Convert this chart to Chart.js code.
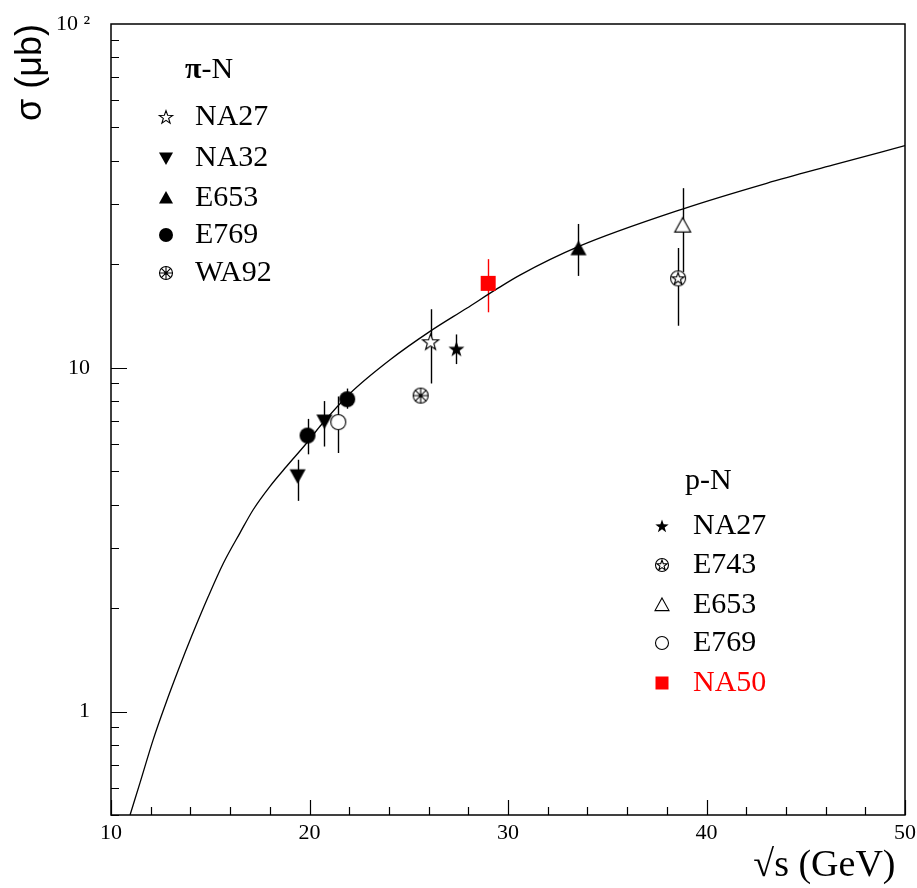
<!DOCTYPE html>
<html>
<head>
<meta charset="utf-8">
<title>sigma vs sqrt(s)</title>
<script src="https://cdn.jsdelivr.net/npm/chart.js@4.4.0/dist/chart.umd.min.js"></script>
<style>
    html, body { margin: 0; padding: 0; background: #fff; }
    #wrap { width: 917px; height: 888px; }
</style>
</head>
<body>
<div id="wrap"><canvas id="xsecChart" width="917" height="888"></canvas></div>
<script>
// Axis ticks
const xTicks = [10, 20, 30, 40, 50];
const yTicks = [1, 10, 100];
const yTickLabels = ['1', '10', '10 \u00B2'];

// Theory curve
const curveX = [10.96, 11.46, 12.13, 12.72, 13.39, 14.07, 14.90, 15.66, 16.50, 17.17, 18.01, 18.85, 19.86, 20.53, 22.04, 24.06, 26.07, 27.92, 29.4, 30.6, 33.54, 38.83, 43.03, 46.39, 50];
const curveY = [0.5, 0.62, 0.83, 1.04, 1.32, 1.66, 2.16, 2.70, 3.31, 3.87, 4.52, 5.17, 6.04, 6.76, 8.42, 10.55, 12.76, 14.9, 16.9, 18.6, 22.5, 29.0, 34.4, 38.9, 44.3];

// pi-N measurements (value, lower and upper end of error bar)
const na27PiX = [26.1];          const na27PiY = [11.9];        const na27PiLo = [9.0];        const na27PiHi = [14.8];
const na32PiX = [19.4, 20.75];   const na32PiY = [4.85, 7.0];   const na32PiLo = [4.1, 5.9];   const na32PiHi = [5.4, 8.0];
const e653PiX = [33.55];         const e653PiY = [22.2];        const e653PiLo = [18.5];       const e653PiHi = [26.2];
const e769PiX = [19.9, 21.9];    const e769PiY = [6.35, 8.1];   const e769PiLo = [5.6, 7.6];   const e769PiHi = [7.1, 8.7];
const wa92PiX = [25.6];          const wa92PiY = [8.3];         const wa92PiLo = [8.3];        const wa92PiHi = [8.3];

// p-N measurements
const na27PX = [27.4];   const na27PY = [11.35];  const na27PLo = [10.25];  const na27PHi = [12.5];
const e743PX = [38.57];  const e743PY = [18.2];   const e743PLo = [13.25];  const e743PHi = [22.3];
const e653PX = [38.8];   const e653PY = [25.9];   const e653PLo = [19.0];   const e653PHi = [33.3];
const e769PX = [21.45];  const e769PY = [6.95];   const e769PLo = [5.65];   const e769PHi = [8.25];
const na50PX = [29.0];   const na50PY = [17.6];   const na50PLo = [14.5];   const na50PHi = [20.7];

const piLegendLabels = ['NA27', 'NA32', 'E653', 'E769', 'WA92'];
const pLegendLabels = ['NA27', 'E743', 'E653', 'E769', 'NA50'];

const RED = '#ff0000';
const SERIF = 'Liberation Serif';

// Draw a 5 point star path
function starPath(g, cx, cy, r) {
    g.beginPath();
    for (let i = 0; i < 10; i++) {
        const rad = i % 2 === 0 ? r : r * 0.4;
        const a = -Math.PI / 2 + i * Math.PI / 5;
        const px = cx + rad * Math.cos(a);
        const py = cy + rad * Math.sin(a);
        if (i === 0) g.moveTo(px, py); else g.lineTo(px, py);
    }
    g.closePath();
}

// Build marker images for pointStyle
function makeMarker(kind, r, color) {
    const size = Math.ceil(2 * r + 4);
    const c = document.createElement('canvas');
    c.width = size;
    c.height = size;
    const g = c.getContext('2d');
    const m = size / 2;
    g.lineWidth = 1.1;
    g.strokeStyle = color;
    g.fillStyle = color;

    if (kind === 'openStar' || kind === 'fullStar') {
        starPath(g, m, m + r * 0.08, r);
        if (kind === 'openStar') { g.fillStyle = '#fff'; g.fill(); g.stroke(); }
        else g.fill();
    } else if (kind === 'triUp' || kind === 'openTriUp') {
        g.beginPath();
        g.moveTo(m, m - r);
        g.lineTo(m + r, m + r * 0.8);
        g.lineTo(m - r, m + r * 0.8);
        g.closePath();
        if (kind === 'openTriUp') { g.fillStyle = '#fff'; g.fill(); g.stroke(); }
        else g.fill();
    } else if (kind === 'triDown') {
        g.beginPath();
        g.moveTo(m, m + r);
        g.lineTo(m + r, m - r * 0.8);
        g.lineTo(m - r, m - r * 0.8);
        g.closePath();
        g.fill();
    } else if (kind === 'circle') {
        g.beginPath();
        g.arc(m, m, r, 0, Math.PI * 2);
        g.fill();
    } else if (kind === 'openCircle') {
        g.beginPath();
        g.arc(m, m, r - 0.5, 0, Math.PI * 2);
        g.fillStyle = '#fff';
        g.fill();
        g.stroke();
    } else if (kind === 'wheel') {
        g.beginPath();
        g.arc(m, m, r - 0.5, 0, Math.PI * 2);
        g.fillStyle = '#fff';
        g.fill();
        g.stroke();
        g.beginPath();
        for (let k = 0; k < 4; k++) {
            const a = k * Math.PI / 4;
            g.moveTo(m - r * Math.cos(a), m - r * Math.sin(a));
            g.lineTo(m + r * Math.cos(a), m + r * Math.sin(a));
        }
        g.stroke();
        g.beginPath();
        g.fillStyle = color;
        g.arc(m, m, 1.6, 0, Math.PI * 2);
        g.fill();
    } else if (kind === 'starCircle') {
        g.beginPath();
        g.arc(m, m, r - 0.5, 0, Math.PI * 2);
        g.fillStyle = '#fff';
        g.fill();
        g.stroke();
        starPath(g, m, m + r * 0.06, r * 0.78);
        g.stroke();
    } else if (kind === 'square') {
        g.fillRect(m - r, m - r, 2 * r, 2 * r);
    }
    return c;
}

function toPoints(xs, ys) {
    return xs.map((v, i) => ({ x: v, y: ys[i] }));
}

function measureSet(label, xs, ys, lo, hi, kind, r, color) {
    return {
        label: label,
        type: 'scatter',
        data: toPoints(xs, ys),
        pointStyle: makeMarker(kind, r, color),
        errLo: lo,
        errHi: hi,
        errColor: color,
        order: 0
    };
}

const piKinds = ['openStar', 'triDown', 'triUp', 'circle', 'wheel'];
const pKinds = ['fullStar', 'starCircle', 'openTriUp', 'openCircle', 'square'];

// Error bars, drawn below the markers
const errorBars = {
    id: 'errorBars',
    beforeDatasetsDraw(chart) {
        const { ctx, scales: { x, y } } = chart;
        ctx.save();
        ctx.lineWidth = 1.4;
        chart.data.datasets.forEach(ds => {
            if (!ds.errLo) return;
            ctx.strokeStyle = ds.errColor;
            ds.data.forEach((p, i) => {
                const px = Math.round(x.getPixelForValue(p.x)) + 0.5;
                ctx.beginPath();
                ctx.moveTo(px, y.getPixelForValue(ds.errHi[i]));
                ctx.lineTo(px, y.getPixelForValue(ds.errLo[i]));
                ctx.stroke();
            });
        });
        ctx.restore();
    }
};

// Frame and inward tick marks
const frameTicks = {
    id: 'frameTicks',
    afterDatasetsDraw(chart) {
        const { ctx, chartArea: a, scales: { x, y } } = chart;
        ctx.save();
        ctx.strokeStyle = '#000';
        ctx.lineWidth = 1.5;
        ctx.strokeRect(a.left, a.top, a.right - a.left, a.bottom - a.top);

        ctx.lineWidth = 1.2;
        ctx.beginPath();
        // x ticks every 2 units, long ones at the labels
        for (let v = x.min; v <= x.max; v += 2) {
            const px = Math.round(x.getPixelForValue(v)) + 0.5;
            const len = xTicks.includes(v) ? 15 : 8;
            ctx.moveTo(px, a.bottom);
            ctx.lineTo(px, a.bottom - len);
        }
        // y ticks at 1..9 x decade
        for (let dec = 0.1; dec < 100; dec *= 10) {
            for (let k = 1; k <= 9; k++) {
                const v = k * dec;
                if (v < y.min - 1e-9 || v > y.max + 1e-9) continue;
                const py = Math.round(y.getPixelForValue(v)) + 0.5;
                const len = k === 1 ? 16 : 8;
                ctx.moveTo(a.left, py);
                ctx.lineTo(a.left + len, py);
            }
        }
        ctx.stroke();
        ctx.restore();
    }
};

// Two legend blocks inside the frame
const legendBlocks = {
    id: 'legendBlocks',
    afterDraw(chart) {
        const ctx = chart.ctx;
        ctx.save();
        ctx.textBaseline = 'middle';
        ctx.textAlign = 'left';

        // pi-N
        ctx.fillStyle = '#000';
        ctx.font = 'bold 30px ' + SERIF;
        ctx.fillText('\u03C0', 185, 70);
        const piW = ctx.measureText('\u03C0').width;
        ctx.font = '30px ' + SERIF;
        ctx.fillText('-N', 185 + piW, 70);
        const piRows = [117, 158, 198, 235, 273];
        piLegendLabels.forEach((lab, i) => {
            const img = makeMarker(piKinds[i], 7, '#000');
            ctx.drawImage(img, 166 - img.width / 2, piRows[i] - img.height / 2);
            ctx.fillStyle = '#000';
            ctx.fillText(lab, 195, piRows[i]);
        });

        // p-N
        ctx.fillStyle = '#000';
        ctx.fillText('p-N', 685, 481);
        const pRows = [526, 565, 605, 643, 683];
        pLegendLabels.forEach((lab, i) => {
            const col = lab === 'NA50' ? RED : '#000';
            const img = makeMarker(pKinds[i], i === 4 ? 6.5 : 7, col);
            ctx.drawImage(img, 662 - img.width / 2, pRows[i] - img.height / 2);
            ctx.fillStyle = col;
            ctx.fillText(lab, 693, pRows[i]);
        });
        ctx.restore();
    }
};

// keep the plot frame where the reference has it
function noOverhang(scale) {
    scale.paddingTop = 0;
    scale.paddingBottom = 0;
    scale.paddingLeft = 0;
    scale.paddingRight = 0;
}

const ctxChart = document.getElementById('xsecChart').getContext('2d');

const xsecChart = new Chart(ctxChart, {
    type: 'scatter',
    data: {
        datasets: [
            measureSet('NA27 pi-N', na27PiX, na27PiY, na27PiLo, na27PiHi, 'openStar', 8.5, '#000'),
            measureSet('NA32 pi-N', na32PiX, na32PiY, na32PiLo, na32PiHi, 'triDown', 8, '#000'),
            measureSet('E653 pi-N', e653PiX, e653PiY, e653PiLo, e653PiHi, 'triUp', 8, '#000'),
            measureSet('E769 pi-N', e769PiX, e769PiY, e769PiLo, e769PiHi, 'circle', 8, '#000'),
            measureSet('WA92 pi-N', wa92PiX, wa92PiY, wa92PiLo, wa92PiHi, 'wheel', 8, '#000'),
            measureSet('NA27 p-N', na27PX, na27PY, na27PLo, na27PHi, 'fullStar', 8.5, '#000'),
            measureSet('E743 p-N', e743PX, e743PY, e743PLo, e743PHi, 'starCircle', 8, '#000'),
            measureSet('E653 p-N', e653PX, e653PY, e653PLo, e653PHi, 'openTriUp', 8, '#000'),
            measureSet('E769 p-N', e769PX, e769PY, e769PLo, e769PHi, 'openCircle', 8, '#000'),
            measureSet('NA50 p-N', na50PX, na50PY, na50PLo, na50PHi, 'square', 7.5, RED),
            {
                label: 'theory',
                type: 'line',
                data: toPoints(curveX, curveY),
                borderColor: '#000',
                borderWidth: 1.3,
                pointRadius: 0,
                cubicInterpolationMode: 'monotone',
                fill: false,
                order: 1
            }
        ]
    },
    options: {
        responsive: false,
        animation: false,
        events: [],
        layout: { padding: { top: 24, right: 12, left: 0, bottom: 0 } },
        plugins: {
            legend: { display: false },
            tooltip: { enabled: false }
        },
        scales: {
            x: {
                type: 'linear',
                min: 10,
                max: 50,
                grid: { display: false, drawTicks: false },
                border: { display: false },
                afterBuildTicks: function (scale) {
                    scale.ticks = xTicks.map(v => ({ value: v }));
                },
                afterFit: function (scale) {
                    scale.height = 73;
                    noOverhang(scale);
                },
                ticks: {
                    autoSkip: false,
                    maxRotation: 0,
                    padding: 5,
                    color: '#000',
                    font: { family: SERIF, size: 22 },
                    callback: function (value) { return String(value); }
                },
                title: {
                    display: true,
                    text: '\u221As (GeV) ',
                    align: 'end',
                    color: '#000',
                    font: { family: SERIF, size: 38, lineHeight: 1.1 },
                    padding: { top: 0, bottom: 1 }
                }
            },
            y: {
                type: 'logarithmic',
                min: 0.5,
                max: 100,
                grid: { display: false, drawTicks: false },
                border: { display: false },
                afterBuildTicks: function (scale) {
                    scale.ticks = yTicks.map(v => ({ value: v }));
                },
                afterFit: function (scale) {
                    scale.width = 111;
                    noOverhang(scale);
                },
                ticks: {
                    autoSkip: false,
                    padding: 21,
                    color: '#000',
                    font: { family: SERIF, size: 22 },
                    callback: function (value) {
                        const i = yTicks.indexOf(value);
                        return i >= 0 ? yTickLabels[i] : '';
                    }
                },
                title: {
                    display: true,
                    text: '\u03C3 (\u03BCb)',
                    align: 'end',
                    color: '#000',
                    font: { family: 'Liberation Sans', size: 36 },
                    padding: { top: 9, bottom: 0 }
                }
            }
        }
    },
    plugins: [errorBars, frameTicks, legendBlocks]
});
</script>
</body>
</html>
